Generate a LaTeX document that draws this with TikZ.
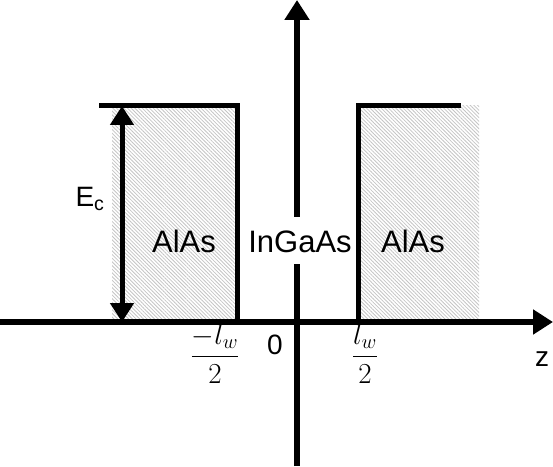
\RequirePackage{fix-cm}
\documentclass[tikz,border=0pt]{standalone}
\usepackage{fontspec}
\setmainfont{Liberation Sans}
\usetikzlibrary{arrows.meta, patterns.meta}
\definecolor{qwhatch}{HTML}{C4C4C4}

\begin{document}
\begin{tikzpicture}[x=1pt, y=1pt,
    axis/.style={line width=5.5pt, -{Triangle[width=24pt, length=20pt]}},
    wall/.style={line width=5pt, line join=miter},
    barrier/.style={pattern={Lines[angle=-45, distance=2.6pt, line width=0.8pt]}, pattern color=qwhatch},
    gap/.style={line width=5pt, {Triangle[width=23pt, length=19pt]}-{Triangle[width=23pt, length=19pt]}},
    material/.style={font=\fontsize{31}{37}\selectfont, anchor=base, inner xsep=3pt, inner ysep=12pt,
                     text height=23pt, text depth=0pt},
    tick/.style={font=\fontsize{28}{33}\selectfont, inner sep=0pt}
  ]
    \useasboundingbox (0,0) rectangle (553,466);
    \fill[barrier] (112,144) rectangle (237,360);
    \fill[barrier] (358,144) rectangle (479,360);
    \coordinate (zl) at (0,144);
    \coordinate (zr) at (553,144);
    \coordinate (eb) at (297,0);
    \coordinate (et) at (297,466);
    \coordinate (lo) at (99,360);
    \coordinate (lc) at (237,360);
    \coordinate (lb) at (237,144);
    \coordinate (rb) at (358,144);
    \coordinate (rc) at (358,360);
    \coordinate (ro) at (461,360);
    \coordinate (gb) at (122,144);
    \coordinate (gt) at (122,360);
    \draw[axis] (eb) -- (et);
    \draw[wall] (lo) -- (lc) -- (lb);
    \draw[wall] (rb) -- (rc) -- (ro);
    \draw[axis] (zl) -- (zr);
    \draw[gap] (gb) -- (gt);
    \node[material] (alasl) at (184,214) {AlAs};
    \node[material, fill=white] (ingaas) at (300,214) {InGaAs};
    \node[material] (alasr) at (413,214) {AlAs};
    \node[tick] (ec) at (90,267) {E\textsubscript{c}};
    \node[tick] (zero) at (275,121.5) {0};
    \node[tick] (zlab) at (542,106.5) {z};
    \node[tick, font=\fontsize{29}{35}\selectfont] (lwmin) at (215,112) {$\displaystyle\frac{-l_w}{2}$};
    \node[tick, font=\fontsize{29}{35}\selectfont] (lwmax) at (365,112) {$\displaystyle\frac{l_w}{2}$};
  \end{tikzpicture}
\end{document}
